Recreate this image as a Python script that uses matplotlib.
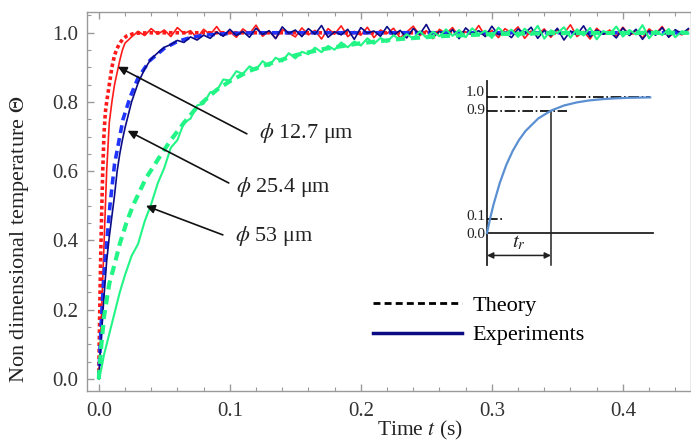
import matplotlib
matplotlib.use("Agg")
import matplotlib.pyplot as plt
from matplotlib.lines import Line2D
from matplotlib.ticker import MultipleLocator

plt.rcParams['font.family'] = ['Liberation Serif', 'DejaVu Serif']
plt.rcParams['mathtext.fontset'] = 'stix'

# ---------------- data ----------------
t_exp = [0, .002, .004, .006, .008, .010, .012, .014, .016, .018,
         .020, .025, .030, .035, .040, .045, .050, .055, .060, .065,
         .070, .075, .080, .085, .090, .095, .100, .105, .110, .115,
         .120, .125, .130, .135, .140, .145, .150, .155, .160, .165,
         .170, .175, .180, .185, .190, .195, .200, .205, .210, .215,
         .220, .225, .230, .235, .240, .245, .250, .255, .260, .265,
         .270, .275, .280, .285, .290, .295, .300, .305, .310, .315,
         .320, .325, .330, .335, .340, .345, .350, .355, .360, .365,
         .370, .375, .380, .385, .390, .395, .400, .405, .410, .415,
         .420, .425, .430, .435, .440, .445, .450]

exp_127 = [0.0, 0.18, 0.39, 0.60, 0.74, 0.80, 0.85, 0.885, 0.92, 0.95,
           0.97, 0.988, 1.004, 0.992, 1.012, 0.996, 1.008, 0.989, 1.015, 0.998,
           1.006, 0.985, 1.010, 0.995, 1.018, 0.991, 1.003, 0.987, 1.011, 0.997,
           1.022, 0.990, 1.005, 0.984, 1.009, 1.000, 0.988, 1.014, 0.994, 1.007,
           0.982, 1.012, 0.996, 1.020, 0.989, 1.004, 0.993, 1.016, 0.986, 1.008,
           0.998, 1.013, 0.985, 1.002, 1.019, 0.992, 1.006, 0.983, 1.010, 0.997,
           1.015, 0.988, 1.003, 0.994, 1.021, 0.990, 1.007, 0.986, 1.012, 0.999,
           1.017, 0.984, 1.005, 0.995, 1.011, 0.987, 1.009, 0.998, 1.023, 0.989,
           1.004, 0.982, 1.013, 0.996, 1.008, 0.990, 1.016, 0.993, 1.006, 0.985,
           1.011, 0.997, 1.018, 0.988, 1.003, 0.994, 1.009]

exp_254 = [0.0, 0.13, 0.24, 0.34, 0.41, 0.47, 0.53, 0.60, 0.65, 0.69,
           0.725, 0.80, 0.855, 0.895, 0.925, 0.942, 0.958, 0.966, 0.978, 0.972,
           0.988, 0.979, 0.993, 0.984, 1.002, 0.990, 1.010, 0.992, 1.004, 0.987,
           1.013, 0.995, 1.006, 0.983, 1.017, 0.998, 1.008, 0.989, 1.012, 0.996,
           1.021, 0.987, 1.003, 0.994, 1.010, 0.981, 1.015, 0.999, 1.005, 0.990,
           1.018, 0.993, 1.007, 0.985, 1.012, 0.996, 1.024, 0.988, 1.004, 0.992,
           1.009, 0.983, 1.014, 0.997, 1.006, 0.989, 1.019, 0.994, 1.002, 0.986,
           1.011, 0.998, 1.016, 0.984, 1.007, 0.991, 1.013, 0.979, 1.005, 0.995,
           1.020, 0.988, 1.008, 0.996, 1.003, 0.985, 1.014, 0.992, 1.010, 0.981,
           1.006, 0.993, 1.015, 0.987, 1.009, 0.997, 1.012]

exp_53 = [0.0, 0.03, 0.07, 0.10, 0.13, 0.16, 0.19, 0.22, 0.25, 0.275,
          0.30, 0.355, 0.39, 0.455, 0.505, 0.565, 0.61, 0.668, 0.69, 0.74,
          0.752, 0.79, 0.795, 0.828, 0.832, 0.865, 0.862, 0.889, 0.881, 0.903,
          0.893, 0.918, 0.904, 0.928, 0.917, 0.941, 0.926, 0.945, 0.938, 0.957,
          0.944, 0.962, 0.951, 0.972, 0.958, 0.975, 0.963, 0.984, 0.968, 0.985,
          0.974, 0.993, 0.979, 0.996, 0.983, 1.004, 0.986, 1.003, 0.990, 1.010,
          0.991, 1.008, 0.987, 1.013, 0.995, 1.006, 0.985, 1.015, 0.997, 1.009,
          0.988, 1.012, 0.994, 1.020, 0.983, 1.007, 0.999, 1.016, 0.986, 1.010,
          0.992, 1.014, 0.981, 1.005, 0.997, 1.018, 0.989, 1.008, 0.995, 1.022,
          0.984, 1.006, 0.993, 1.011, 0.987, 1.004, 0.998]

t_th_127 = [0, 0.0005, 0.001, 0.0015, 0.002, 0.003, 0.004, 0.005, 0.006, 0.008,
            0.010, 0.012, 0.014, 0.016, 0.018, 0.021, 0.026, 0.030, 0.040, 0.45]
th_127 = [0.02, 0.14, 0.26, 0.36, 0.45, 0.60, 0.71, 0.77, 0.80, 0.85,
          0.90, 0.935, 0.955, 0.97, 0.98, 0.99, 0.997, 0.999, 1.0, 1.0]

t_th_254 = [0, 0.001, 0.002, 0.003, 0.0045, 0.006, 0.0085, 0.012, 0.0175, 0.0185,
            0.024, 0.030, 0.039, 0.050, 0.060, 0.070, 0.080, 0.100, 0.120, 0.45]
th_254 = [0.0, 0.09, 0.17, 0.24, 0.33, 0.39, 0.50, 0.62, 0.73, 0.75,
          0.815, 0.87, 0.92, 0.955, 0.975, 0.986, 0.993, 0.998, 1.0, 1.0]

t_th_53 = [0, 0.002, 0.004, 0.008, 0.012, 0.016, 0.021, 0.026, 0.031, 0.036,
           0.042, 0.047, 0.055, 0.065, 0.075, 0.090, 0.100, 0.115, 0.130, 0.150,
           0.170, 0.200, 0.230, 0.260, 0.300, 0.350, 0.450]
th_53 = [0.0, 0.10, 0.18, 0.275, 0.33, 0.39, 0.45, 0.50, 0.54, 0.58,
         0.615, 0.645, 0.69, 0.74, 0.785, 0.835, 0.86, 0.89, 0.91, 0.935,
         0.952, 0.97, 0.982, 0.99, 0.996, 0.999, 1.0]

labels = [r"$\phi$ 12.7 μm", r"$\phi$ 25.4 μm", r"$\phi$ 53 μm"]

# inset schematic (t / t_r, Theta)
ins_x = [0, 0.05, 0.1, 0.2, 0.3, 0.4, 0.5, 0.6, 0.8, 1.0, 1.2, 1.4, 1.6, 1.8, 2.0, 2.2, 2.55]
ins_y = [0, 0.109, 0.206, 0.369, 0.499, 0.602, 0.684, 0.749, 0.842, 0.9, 0.937, 0.960,
         0.975, 0.984, 0.990, 0.994, 0.997]
ins_ticklabels = ["0.0", "0.1", "0.9", "1.0"]
ins_label_y = [-0.008, 0.118, 0.902, 1.03]

# ---------------- figure ----------------
W, H = 691, 441
fig = plt.figure(figsize=(W / 100, H / 100), dpi=100)
ax = fig.add_axes([87 / W, 1 - 391 / H, 604 / W, 379 / H])

RED = '#ff1a1a'
BLUE = '#1f35ff'
NAVY = '#0b0b85'
GREEN = '#22f585'

ax.plot(t_th_127, th_127, color=RED, lw=2.6, linestyle=(0, (1, 0.8)), zorder=2)
ax.plot(t_exp, exp_127, color=RED, lw=1.2, zorder=3)
ax.plot(t_th_254, th_254, color=BLUE, lw=2.6, linestyle=(0, (2.2, 1.4)), zorder=4)
ax.plot(t_exp, exp_254, color=NAVY, lw=1.2, zorder=5)
ax.plot(t_th_53, th_53, color=GREEN, lw=3.0, linestyle=(0, (2.2, 1.4)), zorder=6)
ax.plot(t_exp, exp_53, color=GREEN, lw=1.5, zorder=7)

ax.set_xlim(-0.009, 0.452)
ax.set_ylim(-0.035, 1.06)

ax.xaxis.set_major_locator(MultipleLocator(0.1))
ax.xaxis.set_minor_locator(MultipleLocator(0.02))
ax.yaxis.set_major_locator(MultipleLocator(0.2))
ax.yaxis.set_minor_locator(MultipleLocator(0.05))
ax.xaxis.set_major_formatter(plt.FuncFormatter(lambda v, p: f"{v:.1f}"))
ax.yaxis.set_major_formatter(plt.FuncFormatter(lambda v, p: f"{v:.1f}"))

SPC = '#9a9a9a'
for s in ['left', 'bottom', 'top', 'right']:
    ax.spines[s].set_color(SPC)
    ax.spines[s].set_linewidth(1.0)
ax.tick_params(which='both', direction='in', top=True, right=False, color=SPC,
               labelcolor='#333333', labelsize=15)
ax.tick_params(which='major', length=5, width=1)
ax.tick_params(which='minor', length=3, width=0.8)
ax.tick_params(axis='x', pad=8)
ax.tick_params(axis='y', pad=6)

ax.set_xlabel(r"Time $t$ (s)", fontsize=15.5, color='#222222')
ax.set_ylabel(r"Non dimensional temperature $\mathit{\Theta}$", fontsize=16, color='#222222')
ax.xaxis.set_label_coords((420 - 87) / 604, -0.074)
ax.yaxis.set_label_coords(-0.093, 0.40)

# annotations
tips = [(0.0145, 0.902), (0.022, 0.717), (0.036, 0.50)]
tails = [(0.113, 0.708), (0.0992, 0.566), (0.0947, 0.416)]
txt_pos = [(0.122, 0.711), (0.105, 0.555), (0.104, 0.413)]
for lab, tip, tail, tp in zip(labels, tips, tails, txt_pos):
    ax.annotate('', xy=tip, xytext=tail,
                arrowprops=dict(arrowstyle='-|>', color='#111111', lw=1.2,
                                mutation_scale=13, shrinkA=0, shrinkB=0), zorder=10)
    ax.text(tp[0], tp[1], lab, fontsize=16, va='center', ha='left', color='#222222', zorder=10)

# legend
handles = [Line2D([], [], color='black', lw=2, linestyle=(0, (2.5, 1.5))),
           Line2D([], [], color=NAVY, lw=2.5)]
ax.legend(handles, ['Theory', 'Experiments'], loc='upper left',
          bbox_to_anchor=(0.44, 0.305), frameon=False, fontsize=16,
          handlelength=4.0, handletextpad=0.5, labelspacing=0.4)

# inset schematic
x0, y0 = 487, 233      # pixel of (0, 0)
sx, sy = 64, 136       # pixels per unit
il, ir, it, ib = 440, 670, 70, 275
iax = fig.add_axes([il / W, 1 - ib / H, (ir - il) / W, (ib - it) / H])
iax.set_xlim((il - x0) / sx, (ir - x0) / sx)
iax.set_ylim((y0 - ib) / sy, (y0 - it) / sy)
iax.axis('off')
iax.patch.set_alpha(0)
AXC = '#222222'
iax.plot([0, 2.6], [0, 0], color=AXC, lw=1.3)
iax.plot([0, 0], [-0.235, 1.12], color=AXC, lw=1.3)
iax.plot([1.0, 1.0], [-0.235, 0.9], color=AXC, lw=1.1)
iax.plot([0, 2.55], [1.0, 1.0], color='black', lw=1.2, linestyle='-.')
iax.plot([0, 1.25], [0.9, 0.9], color='black', lw=1.2, linestyle='-.')
iax.plot([0, 0.25], [0.1, 0.1], color='black', lw=1.2, linestyle='-.')
iax.plot(ins_x, ins_y, color='#5a8fd2', lw=1.6)
iax.annotate('', xy=(0, -0.165), xytext=(1.0, -0.165),
             arrowprops=dict(arrowstyle='<|-|>', color=AXC, lw=1.1,
                             mutation_scale=9, shrinkA=0, shrinkB=0))
iax.text(0.5, -0.075, r"$t_r$", fontsize=15, ha='center', va='center', color=AXC)
for v, s in zip(ins_label_y, ins_ticklabels):
    iax.text(-0.03, v, s, fontsize=11, ha='right', va='center', color=AXC)

fig.savefig("out.png", dpi=100)
